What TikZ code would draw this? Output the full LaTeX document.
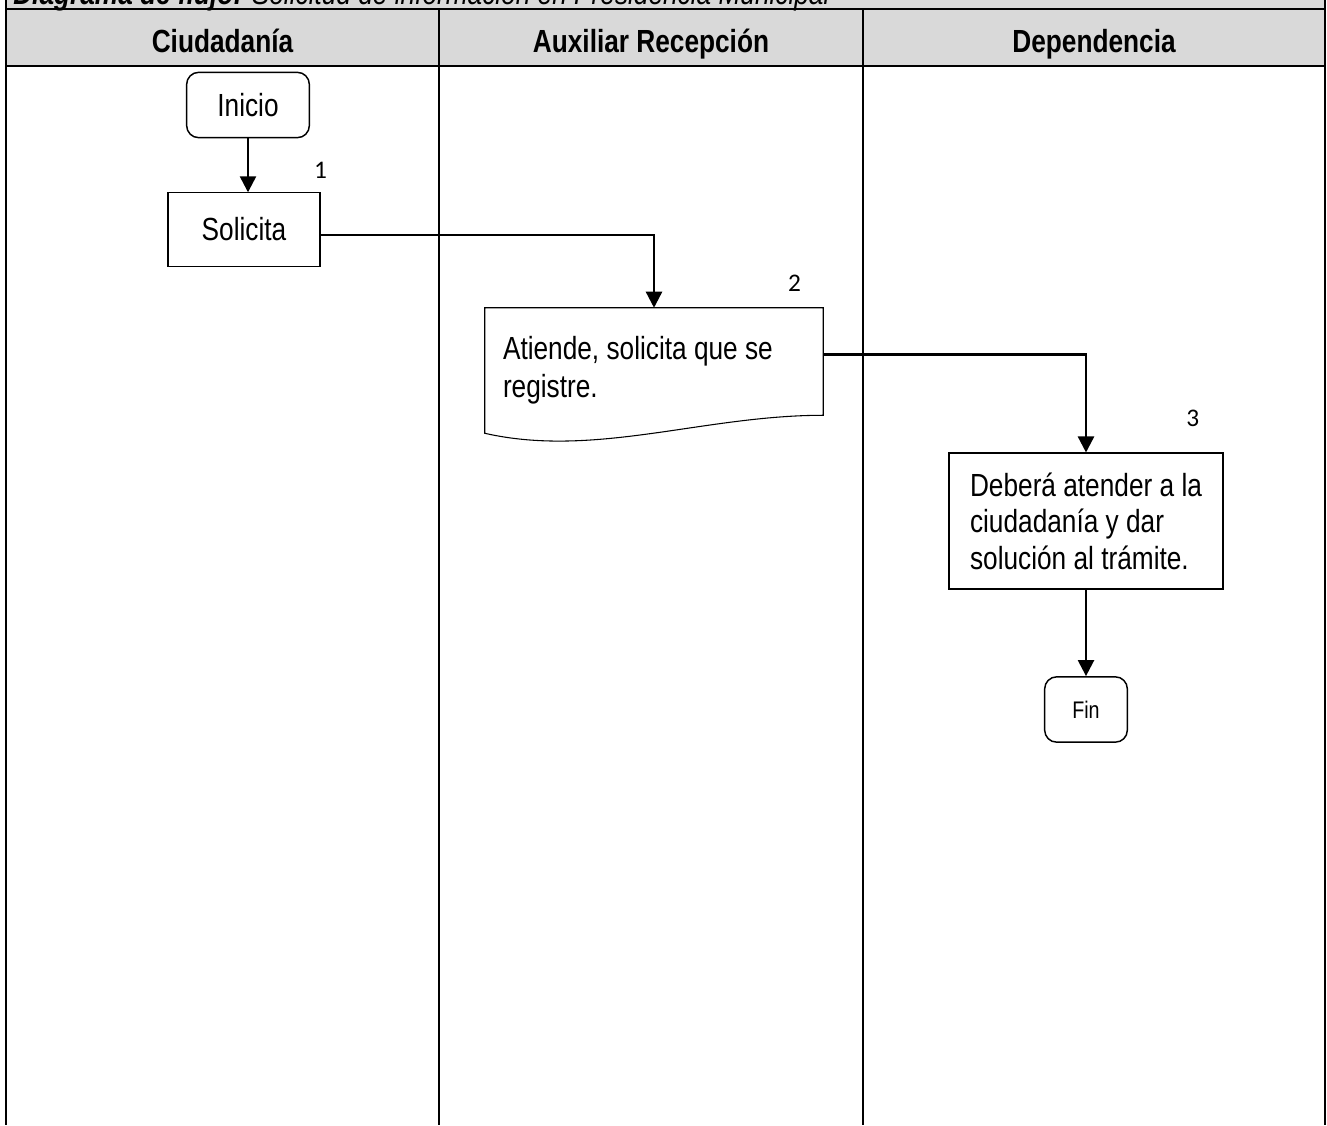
\documentclass[tikz,border=0pt]{standalone}
\usepackage{fontspec}
\setmainfont[FakeStretch=0.82]{Liberation Sans}
\newfontfamily\numfont{Carlito}
\usetikzlibrary{arrows.meta,positioning}
\definecolor{hdrgray}{RGB}{217,217,217}
\tikzset{
  lane/.style={line width=2pt},
  flow/.style={line width=1.8pt,-{Triangle[width=12pt,length=12pt]}},
  term/.style={draw,rounded corners=9pt,line width=1.1pt,minimum width=92pt,minimum height=49pt},
  proc/.style={draw,line width=0.8pt},
  stepnum/.style={font=\numfont\fontsize{19}{22}\selectfont,inner sep=0pt},
  body/.style={font=\fontsize{24}{28.5}\selectfont},
  lanehead/.style={anchor=base,font=\fontsize{24}{28}\selectfont\bfseries}
}
\begin{document}
\begin{tikzpicture}[x=0.75pt,y=-0.75pt]
  \clip (0,0) rectangle (1327,1125);
  % header band
  \fill[hdrgray] (6,0) rectangle (1325,66);
  \node[anchor=base west,inner sep=0pt,font=\fontsize{24}{28}\selectfont\itshape] (title) at (13,4)
    {\textbf{Diagrama de flujo:} Solicitud de información en Presidencia Municipal};
  \node[lanehead] (H0) at (222.5,52) {Ciudadanía};
  \node[lanehead] (H1) at (651,52) {Auxiliar Recepción};
  \node[lanehead] (H2) at (1094,52) {Dependencia};
  \draw[lane] (6,9) -- (1325,9);
  \draw[lane] (6,66) -- (1325,66);
  \foreach \lx in {6,1325}
    \draw[lane] (\lx,0) -- (\lx,1125);
  \foreach \lx in {439,863}
    \draw[lane] (\lx,9) -- (\lx,1125);
  % steps
  \node[term,body] (A0_0) at (248,105) {Inicio};
  \node[proc,body,minimum width=114pt,minimum height=55pt] (A1_0) at (244,229.5) {\raisebox{-4pt}{Solicita}};
  \node[body,align=flush left,inner xsep=13.5pt,text width=226.5pt,minimum height=93.75pt] (A2_1) at (654,370.5)
    {Atiende, solicita que se\\registre.};
  \draw[proc] (A2_1.north west) -- (A2_1.north east) -- ([yshift=13.5pt]A2_1.south east)
    .. controls +(-120,0) and +(110,25) .. (A2_1.south west) -- cycle;
  \node[proc,align=left,minimum width=205.5pt,minimum height=102pt,font=\fontsize{24}{27.4}\selectfont] (A3_2) at (1086,521)
    {Deberá atender a la\\ciudadanía y dar\\solución al trámite.};
  \node[term,minimum width=62pt,font=\fontsize{18}{20}\selectfont] (A4_2) at (1086,709.5) {Fin};
  % numbers
  \node[stepnum,above=10.5pt of A1_0.north east] (N1) {1};
  \node[stepnum,above left=12pt and 16.5pt of A2_1.north east] (N2) {2};
  \node[stepnum,above left=19.5pt and 18pt of A3_2.north east] (N3) {3};
  % connectors
  \draw[flow] (A0_0.south) -- (A0_0.south |- A1_0.north);
  \draw[flow] ([yshift=-4pt]A1_0.east) -| (A2_1.north);
  \draw[flow] ([yshift=12pt]A2_1.east) -| (A3_2.north);
  \draw[flow] (A3_2) -- (A4_2);
\end{tikzpicture}
\end{document}
